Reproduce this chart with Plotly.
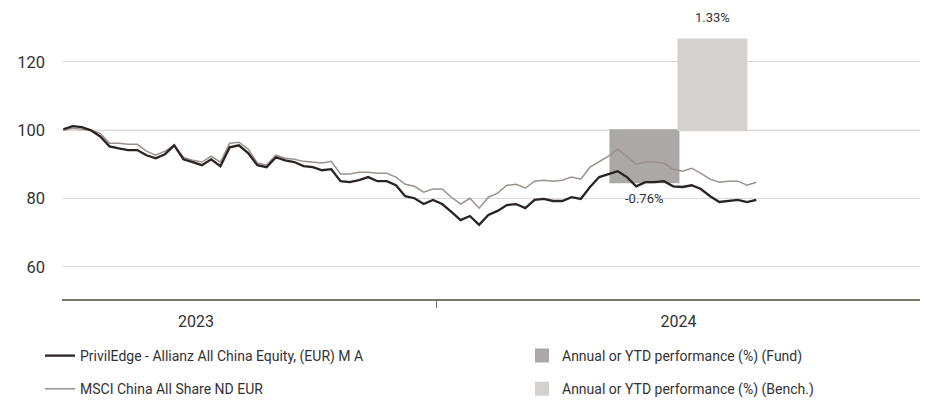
import pandas as pd
import plotly.graph_objects as go

# ---- data ----
fund_name = "PrivilEdge - Allianz All China Equity, (EUR) M A"
bench_name = "MSCI China All Share ND EUR"
fund_bar_name = "Annual or YTD performance (%) (Fund)"
bench_bar_name = "Annual or YTD performance (%) (Bench.)"

start_date = "2023-03-24"   # weekly observations (Fridays)

fund = [100.3, 101.2, 100.9, 100.0, 98.2, 95.3, 94.7, 94.2, 94.2, 92.7,
        91.8, 93.0, 95.6, 91.5, 90.7, 89.8, 91.5, 89.5, 95.0, 95.6,
        93.3, 89.8, 89.2, 92.1, 91.2, 90.7, 89.5, 89.2, 88.3, 88.6,
        85.1, 84.8, 85.4, 86.3, 85.1, 85.1, 83.9, 80.7, 80.1, 78.4,
        79.6, 78.4, 76.1, 73.7, 74.9, 72.3, 75.2, 76.4, 78.1, 78.4,
        77.2, 79.6, 79.9, 79.3, 79.3, 80.4, 79.9, 83.4, 86.3, 87.2,
        88.0, 86.3, 83.6, 84.8, 84.8, 85.1, 83.6, 83.4, 83.9, 82.8,
        80.7, 79.0, 79.3, 79.6, 79.0, 79.6]

bench = [100.0, 100.6, 100.3, 100.0, 99.1, 96.2, 96.2, 95.9, 95.9, 93.9,
         92.7, 93.9, 95.6, 92.1, 91.2, 90.7, 92.4, 90.7, 96.2, 96.5,
         94.5, 90.4, 89.8, 92.7, 91.8, 91.5, 90.9, 90.7, 90.4, 90.9,
         87.2, 87.2, 87.7, 87.7, 87.4, 87.4, 86.3, 84.2, 83.6, 81.9,
         82.8, 82.8, 80.4, 78.4, 80.1, 77.2, 80.4, 81.6, 83.9, 84.2,
         83.1, 85.1, 85.4, 85.1, 85.4, 86.3, 85.7, 89.2, 90.9, 92.4,
         94.5, 92.4, 90.1, 90.7, 90.7, 90.4, 88.6, 88.0, 88.9, 87.4,
         85.7, 84.8, 85.1, 85.1, 83.9, 84.8]

perf_years = ["2024-07-02"]      # middle of the 2024 period
perf_fund = [-0.76]
perf_bench = [1.33]

# ---- styling constants ----
BASE = 100
BAR_SCALE = 20                   # index points per 1 % of performance
BAR_DAYS = 51.5
BAR_W = BAR_DAYS * 86400000
FONT = "Roboto, Liberation Sans, Arial, sans-serif"
TXT = "#333333"
C_FUND = "#2b2323"
C_BENCH = "#9c918c"
C_FUND_BAR = "#aca8a7"
C_BENCH_BAR = "#d5d1ce"
PAGE_OFF = 8                     # default body margin of the html page
W, H = 928, 401

dates = pd.date_range(start_date, periods=len(fund), freq="7D")

fig = go.Figure()

fig.add_trace(go.Bar(
    x=perf_years, y=[p * BAR_SCALE for p in perf_fund], base=BASE,
    width=BAR_W, offset=-BAR_W, name=fund_bar_name,
    marker=dict(color=C_FUND_BAR, line=dict(color=C_FUND_BAR, width=2)),
    legend="legend2", legendrank=1, legendgroup="fb", hoverinfo="skip"))
fig.add_trace(go.Bar(
    x=perf_years, y=[p * BAR_SCALE for p in perf_bench], base=BASE,
    width=BAR_W, offset=0, name=bench_bar_name,
    marker=dict(color=C_BENCH_BAR, line=dict(color=C_BENCH_BAR, width=2)),
    legend="legend2", legendrank=2, legendgroup="bb", hoverinfo="skip"))

fig.add_trace(go.Scatter(
    x=dates, y=bench, mode="lines", name=bench_name,
    line=dict(color=C_BENCH, width=1.5), legend="legend", legendrank=2,
    legendgroup="bl"))
fig.add_trace(go.Scatter(
    x=dates, y=fund, mode="lines", name=fund_name,
    line=dict(color=C_FUND, width=2.3), legend="legend", legendrank=1,
    legendgroup="fl"))

# performance labels
half = pd.Timedelta(days=BAR_DAYS / 2)
for yr, pf, pb in zip(perf_years, perf_fund, perf_bench):
    t = pd.Timestamp(yr)
    for xc, p in ((t - half, pf), (t + half, pb)):
        fig.add_annotation(
            x=xc, y=BASE + p * BAR_SCALE, text=f"{p:.2f}%", showarrow=False,
            yanchor="middle", yshift=22 if p > 0 else -16,
            font=dict(family=FONT, size=13, color=TXT))

fig.add_shape(type="line", xref="paper", x0=0, x1=1, yref="y", y0=BASE, y1=BASE,
              line=dict(color="#bdbdbd", width=1), layer="below")

leg_top = 340 - PAGE_OFF
fig.update_layout(
    width=W, height=H,
    margin=dict(l=62 - PAGE_OFF, r=8 + PAGE_OFF, t=11 - PAGE_OFF,
                b=102 + PAGE_OFF, autoexpand=False),
    paper_bgcolor="white", plot_bgcolor="white",
    font=dict(family=FONT, color=TXT),
    barmode="overlay",
    showlegend=True,
    xaxis=dict(
        type="date", range=["2023-03-23", "2025-01-01"],
        tick0="2023-01-01", dtick="M12", tickformat="%Y", ticklabelmode="period",
        ticks="outside", ticklen=7, tickwidth=1, tickcolor="#707062",
        showline=True, linecolor="#77776a", linewidth=2,
        showgrid=False, zeroline=False,
        tickfont=dict(family=FONT, size=16, color=TXT)),
    yaxis=dict(
        range=[50.6, 134.93], tickvals=[60, 80, 100, 120],
        showgrid=True, gridcolor="#d9d9d9", gridwidth=1,
        showline=False, zeroline=False, ticks="", ticklabelstandoff=16,
        tickfont=dict(family=FONT, size=16.5, color=TXT)),
    legend=dict(
        xref="container", yref="container", x=(40 - PAGE_OFF) / W,
        y=(H - leg_top) / H,
        xanchor="left", yanchor="top", orientation="v", traceorder="grouped",
        tracegroupgap=12, bgcolor="rgba(0,0,0,0)",
        font=dict(family=FONT, size=14, color=TXT)),
    legend2=dict(
        xref="container", yref="container", x=(522 - PAGE_OFF) / W,
        y=(H - leg_top) / H,
        xanchor="left", yanchor="top", orientation="v", traceorder="grouped",
        tracegroupgap=12, bgcolor="rgba(0,0,0,0)",
        font=dict(family=FONT, size=14, color=TXT)),
)

fig.write_html("out.html")
